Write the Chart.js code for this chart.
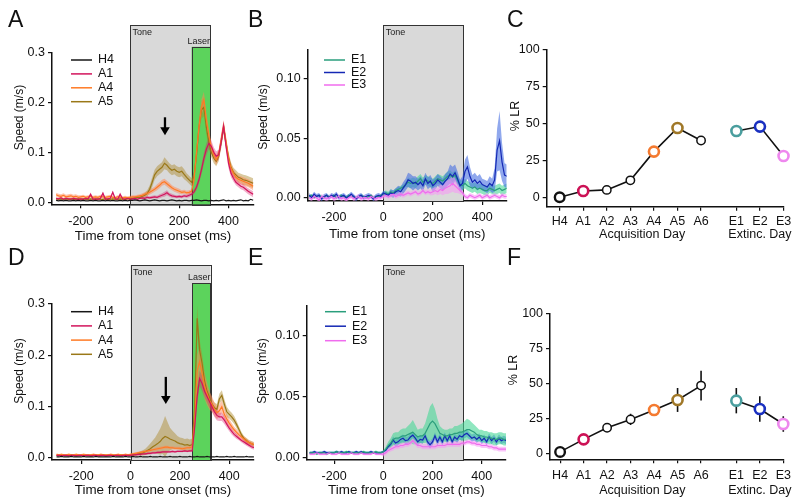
<!DOCTYPE html>
<html>
<head>
<meta charset="utf-8">
<script src="https://cdn.jsdelivr.net/npm/chart.js@4/dist/chart.umd.min.js"></script>
<style>
  html, body { margin: 0; padding: 0; background: #fff; }
  #wrap { position: relative; width: 800px; height: 504px; }
  #wrap canvas { position: absolute; left: 0; top: 0; }
</style>
</head>
<body>
<div id="wrap">
  <canvas id="cA" width="800" height="504"></canvas>
  <canvas id="cB" width="800" height="504"></canvas>
  <canvas id="cC" width="800" height="504"></canvas>
  <canvas id="cD" width="800" height="504"></canvas>
  <canvas id="cE" width="800" height="504"></canvas>
  <canvas id="cF" width="800" height="504"></canvas>
</div>
<script>
// time axis, 10 ms bins from -300 to 500 ms
const T = Array.from({length: 81}, (_, i) => -300 + 10 * i);

// ---- A: acquisition speed traces (m/s)
const h4A = [
  .004,.003,.004,.003,.004,.003,.003,.004,.003,.004,
  .003,.004,.003,.003,.004,.003,.004,.003,.003,.004,
  .003,.004,.003,.004,.003,.003,.004,.003,.004,.003,
  .004,.004,.005,.004,.003,.004,.005,.004,.003,.004,
  .005,.004,.003,.004,.004,.003,.004,.005,.004,.003,
  .004,.003,.004,.004,.003,.004,.004,.005,.004,.003,
  .004,.004,.003,.004,.003,.004,.003,.004,.005,.003,
  .004,.003,.004,.003,.004,.005,.003,.004,.003,.006,
  .004];
const a1A = [
  .008,.007,.009,.006,.008,.007,.006,.008,.007,.006,
  .007,.006,.008,.007,.016,.006,.007,.006,.008,.018,
  .006,.007,.008,.020,.007,.006,.016,.007,.006,.008,
  .006,.007,.008,.006,.008,.009,.008,.010,.009,.010,
  .011,.010,.012,.014,.016,.019,.015,.013,.012,.011,
  .012,.011,.013,.012,.014,.016,.021,.030,.045,.065,
  .088,.106,.118,.112,.100,.092,.095,.120,.152,.112,
  .078,.058,.048,.040,.036,.032,.030,.026,.022,.019,
  .016];
const a1Asem = [
  .002,.002,.002,.002,.002,.002,.002,.002,.002,.002,
  .002,.002,.002,.002,.004,.002,.002,.002,.002,.004,
  .002,.002,.002,.004,.002,.002,.004,.002,.002,.002,
  .002,.002,.002,.002,.002,.003,.003,.003,.003,.003,
  .003,.003,.004,.004,.005,.005,.004,.004,.003,.003,
  .003,.003,.003,.003,.004,.004,.005,.006,.008,.010,
  .012,.012,.012,.012,.010,.010,.010,.012,.012,.012,
  .010,.008,.007,.006,.006,.006,.006,.006,.006,.006,
  .006];
const a4A = [
  .015,.013,.012,.014,.011,.012,.013,.011,.012,.010,
  .011,.012,.010,.011,.012,.010,.011,.010,.012,.011,
  .010,.011,.012,.010,.009,.011,.010,.009,.010,.009,
  .010,.011,.011,.012,.013,.014,.016,.018,.020,.023,
  .026,.030,.034,.039,.041,.037,.033,.029,.026,.024,
  .022,.020,.021,.019,.020,.022,.045,.100,.150,.190,
  .205,.165,.135,.110,.095,.085,.095,.125,.152,.120,
  .088,.068,.058,.050,.046,.044,.042,.040,.038,.035,
  .032];
const a4Asem = [
  .004,.004,.004,.004,.004,.004,.004,.004,.004,.004,
  .003,.003,.003,.003,.003,.003,.003,.003,.003,.003,
  .003,.003,.003,.003,.003,.003,.003,.003,.003,.003,
  .003,.003,.003,.003,.003,.004,.004,.004,.005,.005,
  .005,.006,.006,.006,.006,.006,.006,.005,.005,.005,
  .005,.004,.004,.004,.004,.004,.006,.010,.014,.016,
  .016,.014,.012,.010,.010,.010,.010,.012,.012,.012,
  .010,.009,.008,.008,.008,.008,.008,.008,.008,.008,
  .008];
const a5A = [
  .007,.006,.007,.006,.007,.006,.007,.006,.006,.007,
  .006,.007,.006,.006,.007,.006,.006,.007,.006,.006,
  .007,.006,.006,.007,.006,.006,.007,.006,.006,.007,
  .008,.008,.009,.010,.010,.012,.014,.018,.026,.040,
  .055,.062,.066,.070,.078,.074,.068,.064,.066,.062,
  .060,.062,.056,.050,.045,.040,.052,.095,.150,.185,
  .190,.150,.120,.100,.088,.082,.092,.120,.150,.118,
  .090,.070,.060,.055,.050,.048,.045,.044,.042,.040,
  .038];
const a5Asem = [
  .002,.002,.002,.002,.002,.002,.002,.002,.002,.002,
  .002,.002,.002,.002,.002,.002,.002,.002,.002,.002,
  .002,.002,.002,.002,.002,.002,.002,.002,.002,.002,
  .002,.002,.002,.003,.003,.004,.005,.006,.008,.010,
  .010,.010,.010,.010,.012,.010,.010,.010,.010,.010,
  .010,.010,.010,.008,.008,.008,.010,.014,.016,.018,
  .018,.015,.012,.010,.010,.010,.010,.012,.012,.012,
  .010,.010,.009,.009,.009,.009,.010,.010,.010,.010,
  .010];

// ---- B: extinction speed traces
const e1B = [
  .001,.002,.000,.001,.002,.001,.000,.002,.001,.001,
  .002,.000,.001,.002,.001,.000,.002,.001,.001,.000,
  .001,.002,.001,.000,.001,.002,.000,.001,.001,.002,
  .003,.004,.003,.005,.004,.006,.007,.008,.009,.011,
  .013,.012,.013,.012,.014,.016,.013,.015,.014,.013,
  .012,.014,.016,.015,.014,.016,.018,.019,.017,.019,
  .015,.011,.010,.012,.010,.009,.008,.009,.007,.008,
  .007,.006,.006,.008,.007,.006,.007,.008,.006,.007,
  .008];
const e1Bsem = [
  .001,.001,.001,.001,.001,.001,.001,.001,.001,.001,
  .001,.001,.001,.001,.001,.001,.001,.001,.001,.001,
  .001,.001,.001,.001,.001,.001,.001,.001,.001,.001,
  .002,.002,.002,.002,.002,.002,.002,.002,.002,.002,
  .004,.004,.004,.004,.004,.004,.004,.004,.004,.004,
  .004,.004,.004,.004,.004,.004,.004,.004,.004,.004,
  .004,.004,.004,.004,.004,.004,.004,.004,.004,.004,
  .004,.004,.004,.004,.004,.004,.004,.004,.004,.004,
  .004];
const e2B = [
  .002,.000,.003,.001,.002,-.001,.001,.002,.000,.002,
  .001,.003,.000,.001,.002,.000,.001,.003,.001,-.001,
  .001,.002,.000,.001,.002,.001,-.001,.001,.002,.001,
  .004,.003,.002,.004,.003,.005,.006,.005,.008,.011,
  .015,.014,.012,.013,.011,.013,.010,.016,.012,.014,
  .010,.012,.015,.013,.011,.014,.016,.020,.018,.021,
  .016,.010,.012,.022,.026,.018,.013,.015,.012,.014,
  .011,.010,.009,.012,.010,.015,.040,.048,.030,.019,
  .018];
const e2Bsem = [
  .002,.002,.002,.002,.002,.002,.002,.002,.002,.002,
  .002,.002,.002,.002,.002,.002,.002,.002,.002,.002,
  .002,.002,.002,.002,.002,.002,.002,.002,.002,.002,
  .002,.002,.002,.003,.003,.003,.004,.004,.005,.005,
  .006,.006,.006,.005,.005,.005,.005,.005,.005,.005,
  .005,.005,.005,.005,.005,.006,.006,.008,.008,.007,
  .006,.005,.006,.010,.010,.008,.006,.006,.006,.006,
  .005,.005,.005,.006,.006,.010,.018,.025,.016,.010,
  .010];
const e3B = [
  .000,-.001,.001,.000,-.002,.001,.000,-.001,.000,.001,
  -.001,.000,.001,-.001,.000,-.002,.000,.001,-.001,.000,
  .001,-.001,.000,.000,-.001,.001,.000,-.001,.000,.000,
  .001,.002,.001,.002,.003,.001,.002,.003,.002,.003,
  .004,.003,.004,.005,.003,.004,.006,.004,.005,.004,
  .005,.006,.005,.007,.006,.008,.009,.010,.012,.010,
  .008,.006,.004,.001,.000,.002,.001,.000,.001,.002,
  .000,.001,.002,.000,.001,.002,.001,.000,.002,.001,
  .001];
const e3Bsem = [
  .002,.002,.002,.002,.002,.002,.002,.002,.002,.002,
  .002,.002,.002,.002,.002,.002,.002,.002,.002,.002,
  .002,.002,.002,.002,.002,.002,.002,.002,.002,.002,
  .002,.002,.002,.002,.002,.002,.002,.002,.002,.002,
  .002,.002,.002,.002,.002,.002,.002,.002,.002,.002,
  .003,.003,.003,.004,.004,.005,.006,.006,.007,.006,
  .004,.003,.002,.002,.002,.002,.002,.002,.002,.002,
  .002,.002,.002,.002,.002,.002,.002,.002,.002,.002,
  .002];

// ---- D: acquisition speed traces (second group)
const h4D = [
  .002,.002,.003,.002,.002,.002,.003,.002,.002,.002,
  .002,.003,.002,.002,.002,.002,.003,.002,.002,.002,
  .002,.002,.002,.003,.002,.002,.002,.002,.003,.002,
  .002,.003,.002,.002,.003,.002,.002,.002,.003,.002,
  .002,.002,.003,.002,.002,.002,.003,.002,.002,.002,
  .003,.002,.002,.002,.003,.002,.002,.003,.002,.002,
  .002,.003,.002,.002,.002,.003,.002,.002,.002,.003,
  .002,.002,.003,.002,.002,.002,.002,.003,.002,.002,
  .002];
const a1D = [
  .005,.005,.004,.005,.005,.004,.005,.005,.004,.005,
  .005,.004,.005,.005,.004,.005,.005,.004,.005,.005,
  .004,.005,.005,.004,.005,.005,.004,.005,.005,.005,
  .005,.006,.006,.007,.007,.008,.008,.009,.009,.010,
  .010,.011,.011,.012,.012,.012,.012,.013,.012,.013,
  .013,.013,.014,.013,.014,.014,.060,.120,.155,.145,
  .130,.120,.110,.100,.090,.083,.080,.080,.074,.066,
  .058,.052,.046,.042,.038,.034,.031,.028,.025,.022,
  .020];
const a1Dsem = [
  .001,.001,.001,.001,.001,.001,.001,.001,.001,.001,
  .001,.001,.001,.001,.001,.001,.001,.001,.001,.001,
  .001,.001,.001,.001,.001,.001,.001,.001,.001,.001,
  .001,.001,.002,.002,.002,.002,.002,.002,.002,.002,
  .002,.002,.002,.002,.002,.002,.002,.002,.002,.002,
  .002,.002,.002,.002,.002,.002,.010,.015,.015,.015,
  .012,.012,.012,.010,.010,.010,.008,.008,.008,.007,
  .006,.006,.005,.005,.004,.004,.004,.004,.004,.004,
  .004];
const a4D = [
  .007,.006,.007,.006,.006,.007,.006,.006,.007,.006,
  .006,.007,.006,.006,.006,.007,.006,.006,.007,.006,
  .006,.006,.007,.006,.006,.007,.006,.006,.007,.006,
  .007,.008,.009,.010,.011,.012,.013,.014,.015,.016,
  .017,.018,.019,.020,.021,.021,.020,.020,.019,.019,
  .019,.018,.019,.020,.020,.022,.070,.170,.188,.165,
  .140,.125,.112,.105,.095,.088,.092,.100,.085,.076,
  .068,.061,.055,.050,.045,.041,.037,.033,.030,.028,
  .026];
const a4Dsem = [
  .002,.002,.002,.002,.002,.002,.002,.002,.002,.002,
  .002,.002,.002,.002,.002,.002,.002,.002,.002,.002,
  .002,.002,.002,.002,.002,.002,.002,.002,.002,.002,
  .002,.002,.002,.002,.002,.002,.002,.002,.002,.002,
  .003,.003,.003,.003,.003,.003,.003,.003,.003,.003,
  .003,.003,.003,.003,.003,.004,.015,.030,.030,.028,
  .025,.022,.018,.015,.013,.012,.012,.012,.010,.009,
  .008,.007,.006,.006,.005,.005,.005,.005,.004,.004,
  .004];
const a5D = [
  .005,.005,.006,.005,.005,.005,.006,.005,.005,.005,
  .005,.006,.005,.005,.005,.006,.005,.005,.005,.006,
  .005,.005,.006,.005,.005,.005,.006,.005,.005,.005,
  .006,.006,.007,.008,.009,.010,.012,.015,.018,.022,
  .025,.028,.032,.038,.042,.040,.037,.035,.033,.030,
  .028,.027,.025,.026,.024,.026,.100,.272,.210,.185,
  .150,.130,.118,.105,.098,.095,.115,.122,.105,.090,
  .085,.080,.074,.065,.055,.045,.038,.034,.030,.028,
  .026];
const a5Dsem = [
  .002,.002,.002,.002,.002,.002,.002,.002,.002,.002,
  .002,.002,.002,.002,.002,.002,.002,.002,.002,.002,
  .002,.002,.002,.002,.002,.002,.002,.002,.002,.002,
  .002,.002,.002,.003,.004,.005,.006,.008,.010,.012,
  .015,.020,.025,.030,.040,.030,.022,.018,.015,.013,
  .012,.012,.012,.012,.012,.012,.020,.025,.020,.018,
  .015,.012,.010,.010,.010,.010,.010,.010,.010,.010,
  .008,.008,.008,.007,.006,.005,.005,.005,.005,.005,
  .005];

// ---- E: extinction speed traces (second group)
const e1E = [
  .004,.004,.004,.003,.004,.004,.004,.003,.004,.004,
  .004,.005,.004,.004,.004,.005,.004,.004,.004,.004,
  .004,.004,.005,.004,.004,.004,.004,.005,.004,.004,
  .005,.007,.010,.012,.015,.016,.016,.017,.018,.018,
  .019,.020,.021,.019,.017,.018,.018,.020,.024,.028,
  .030,.028,.024,.020,.019,.018,.018,.019,.019,.020,
  .020,.021,.021,.022,.023,.023,.022,.021,.019,.018,
  .018,.017,.017,.016,.016,.015,.015,.016,.016,.015,
  .015];
const e1Esem = [
  .001,.001,.001,.001,.001,.001,.001,.001,.001,.001,
  .001,.001,.001,.001,.001,.001,.001,.001,.001,.001,
  .001,.001,.001,.001,.001,.001,.001,.001,.001,.001,
  .001,.002,.003,.004,.005,.005,.005,.006,.006,.006,
  .007,.008,.010,.008,.006,.006,.006,.008,.011,.014,
  .015,.012,.008,.006,.005,.005,.005,.005,.005,.006,
  .006,.006,.007,.008,.009,.008,.007,.006,.006,.005,
  .005,.005,.005,.005,.005,.005,.005,.005,.005,.005,
  .005];
const e2E = [
  .004,.004,.005,.004,.004,.004,.005,.004,.004,.004,
  .004,.005,.004,.005,.004,.004,.005,.004,.004,.005,
  .004,.005,.004,.004,.004,.005,.004,.004,.004,.004,
  .005,.006,.009,.011,.0145,.012,.013,.015,.016,.014,
  .0145,.017,.0185,.016,.013,.015,.0145,.018,.013,.0105,
  .013,.018,.013,.017,.013,.018,.014,.018,.013,.017,
  .015,.018,.017,.019,.020,.018,.016,.017,.015,.017,
  .014,.016,.013,.017,.014,.016,.013,.016,.014,.015,
  .014];
const e2Esem = [
  .001,.001,.001,.001,.001,.001,.001,.001,.001,.001,
  .001,.001,.001,.001,.001,.001,.001,.001,.001,.001,
  .001,.001,.001,.001,.001,.001,.001,.001,.001,.001,
  .001,.001,.002,.002,.003,.003,.003,.003,.003,.003,
  .003,.003,.003,.003,.003,.003,.003,.003,.003,.003,
  .003,.003,.003,.003,.003,.003,.003,.003,.003,.003,
  .003,.003,.003,.003,.003,.003,.003,.003,.003,.003,
  .003,.003,.003,.003,.003,.003,.003,.003,.003,.003,
  .003];
const e3E = [
  .003,.003,.003,.004,.003,.003,.003,.003,.004,.003,
  .003,.003,.004,.003,.003,.003,.003,.004,.003,.003,
  .003,.004,.003,.003,.003,.003,.004,.003,.003,.003,
  .003,.004,.006,.007,.008,.009,.009,.010,.010,.011,
  .011,.012,.014,.012,.010,.010,.009,.009,.009,.009,
  .009,.009,.010,.010,.010,.010,.011,.011,.011,.011,
  .011,.011,.012,.012,.013,.013,.012,.012,.011,.011,
  .010,.010,.010,.009,.009,.008,.008,.007,.007,.007,
  .007];
const e3Esem = [
  .001,.001,.001,.001,.001,.001,.001,.001,.001,.001,
  .001,.001,.001,.001,.001,.001,.001,.001,.001,.001,
  .001,.001,.001,.001,.001,.001,.001,.001,.001,.001,
  .002,.002,.002,.002,.002,.002,.002,.002,.002,.002,
  .002,.002,.002,.002,.002,.002,.002,.002,.002,.002,
  .002,.002,.002,.002,.002,.002,.002,.002,.002,.002,
  .002,.002,.002,.002,.002,.002,.002,.002,.002,.002,
  .002,.002,.002,.002,.002,.002,.002,.002,.002,.002,
  .002];

// ---- C / F: % LR per day
const days = ['H4','A1','A2','A3','A4','A5','A6','E1','E2','E3'];
const dayPos = [0, 1, 2, 3, 4, 5, 6, 7.5, 8.5, 9.5];
const lrC = [0, 4.3, 5, 11.5, 31, 47, 38.5, 45, 48, 28];
const lrF = [1.5, 10.4, 18.7, 24.6, 31.3, 38.4, 48.6, 37.9, 32, 21.3];
const lrFsem = [1, 2, 3, 4, 3, 8.5, 10.5, 9, 9, 5.5];
const groupNames = ['Acquisition Day', 'Extinc. Day'];
const groupAt = [3.5, 8.5];

// ticks
const timeTicks = [-200, 0, 200, 400];
const speedTicksA = [0, 0.1, 0.2, 0.3];
const speedTicksB = [0, 0.05, 0.1];
const lrTicks = [0, 25, 50, 75, 100];

// styles
const COL = {H4: '#161616', A1: '#d3145c', A4: '#ff7a24', A5: '#9a7818', E1: '#2a9e7c', E2: '#1428b4', E3: '#f06cee'};
const BAND = {A1: 'rgba(215,30,105,0.35)', A4: 'rgba(255,135,85,0.5)', A5: 'rgba(170,135,40,0.45)',
              E1: 'rgba(70,215,150,0.6)', E2: 'rgba(70,110,225,0.6)', E3: 'rgba(248,150,245,0.55)'};
const DAYCOL = ['#111', '#cc1155', '#111', '#111', '#f47a30', '#a07828', '#111', '#4a9e9e', '#1a30c0', '#ee88ee'];
const DAYRAD = [4.8, 5, 4.2, 4.2, 5, 5, 4.2, 5, 5, 5];
const DAYBW = [2.4, 2.6, 1.5, 1.5, 2.6, 2.6, 1.5, 2.6, 2.6, 2.6];
const FONT = '"Liberation Sans", Arial, Helvetica, sans-serif';

Chart.defaults.font.family = FONT;
Chart.defaults.font.size = 12.5;
Chart.defaults.color = '#111';

function traceSets(series) {
  const sets = [];
  series.forEach((s, k) => {
    if (s.sem) {
      sets.push({data: T.map((t, i) => ({x: t, y: s.mean[i] + s.sem[i]})), borderColor: 'rgba(0,0,0,0)',
        backgroundColor: BAND[s.name], borderWidth: 0, pointRadius: 0, fill: '+1', order: 200 - k});
      sets.push({data: T.map((t, i) => ({x: t, y: s.mean[i] - s.sem[i]})), borderColor: 'rgba(0,0,0,0)',
        borderWidth: 0, pointRadius: 0, fill: false, order: 200 - k});
    }
    sets.push({data: T.map((t, i) => ({x: t, y: s.mean[i]})), borderColor: COL[s.name],
      borderWidth: 1.2, pointRadius: 0, fill: false, order: 100 - k});
  });
  return sets;
}

function daySets(vals) {
  const mk = idx => ({
    data: idx.map(i => ({x: dayPos[i], y: vals[i]})),
    borderColor: '#111', borderWidth: 1.6, fill: false, clip: false,
    pointRadius: idx.map(i => DAYRAD[i]), pointBorderWidth: idx.map(i => DAYBW[i]),
    pointBorderColor: idx.map(i => DAYCOL[i]), pointBackgroundColor: '#fff'
  });
  return [mk([0, 1, 2, 3, 4, 5, 6]), mk([7, 8, 9])];
}

function panelPlugin(P) {
  return {
    id: 'panel' + P.letter,
    beforeDatasetsDraw(chart) {
      const ctx = chart.ctx, ca = chart.chartArea, xs = chart.scales.x, ys = chart.scales.y;
      ctx.save();
      (P.boxes || []).forEach(b => {
        const l = xs.getPixelForValue(b.from), r = xs.getPixelForValue(b.to), top = ys.getPixelForValue(b.top);
        ctx.fillStyle = b.fill;
        ctx.fillRect(l, top, r - l, ca.bottom - top);
        ctx.strokeStyle = '#333';
        ctx.lineWidth = 1;
        ctx.strokeRect(Math.round(l) + 0.5, Math.round(top) + 0.5, Math.round(r - l), Math.round(ca.bottom - top));
        ctx.fillStyle = '#222';
        ctx.font = '9px ' + FONT;
        if (b.inside) {
          ctx.textAlign = 'left'; ctx.textBaseline = 'top';
          ctx.fillText(b.label, l + 2.5, top + 3);
        } else {
          ctx.textAlign = 'right'; ctx.textBaseline = 'bottom';
          ctx.fillText(b.label, r, top - 1);
        }
      });
      if (P.err) {
        ctx.strokeStyle = '#111';
        ctx.lineWidth = 1.6;
        P.err.sem.forEach((e, i) => {
          const x = xs.getPixelForValue(dayPos[i]);
          ctx.beginPath();
          ctx.moveTo(x, ys.getPixelForValue(P.err.vals[i] - e));
          ctx.lineTo(x, ys.getPixelForValue(P.err.vals[i] + e));
          ctx.stroke();
        });
      }
      ctx.restore();
    },
    afterDatasetsDraw(chart) {
      if (!P.arrow) return;
      const ctx = chart.ctx, xs = chart.scales.x, ys = chart.scales.y;
      const x = xs.getPixelForValue(P.arrow.t), y0 = ys.getPixelForValue(P.arrow.from), y1 = ys.getPixelForValue(P.arrow.to);
      ctx.save();
      ctx.strokeStyle = '#000'; ctx.fillStyle = '#000'; ctx.lineWidth = 2.3;
      ctx.beginPath(); ctx.moveTo(x, y0); ctx.lineTo(x, y1 - 6); ctx.stroke();
      ctx.beginPath(); ctx.moveTo(x - 4.8, y1 - 8); ctx.lineTo(x + 4.8, y1 - 8); ctx.lineTo(x, y1); ctx.closePath(); ctx.fill();
      ctx.restore();
    },
    afterDraw(chart) {
      const ctx = chart.ctx, xs = chart.scales.x;
      ctx.save();
      ctx.fillStyle = '#111';
      if (P.legend) {
        const L = P.legend;
        ctx.font = '12.5px ' + FONT;
        ctx.textAlign = 'left'; ctx.textBaseline = 'middle';
        L.names.forEach((n, i) => {
          const y = L.y + i * L.dy;
          ctx.strokeStyle = COL[n]; ctx.lineWidth = 1.5;
          ctx.beginPath(); ctx.moveTo(L.x, y); ctx.lineTo(L.x + 21, y); ctx.stroke();
          ctx.fillText(n, L.x + 27, y);
        });
      }
      if (P.groups) {
        ctx.font = '12.5px ' + FONT;
        ctx.textAlign = 'center'; ctx.textBaseline = 'middle';
        groupNames.forEach((g, i) => ctx.fillText(g, xs.getPixelForValue(groupAt[i]), P.groups.y));
      }
      const Y = P.yTitle;
      ctx.save();
      ctx.translate(Y.x, Y.y); ctx.rotate(-Math.PI / 2);
      ctx.font = Y.size + 'px ' + FONT;
      ctx.textAlign = 'center'; ctx.textBaseline = 'middle';
      ctx.fillText(Y.text, 0, 0);
      ctx.restore();
      ctx.font = '23px ' + FONT;
      ctx.textAlign = 'left'; ctx.textBaseline = 'alphabetic';
      ctx.fillText(P.letter, P.letterPos[0], P.letterPos[1]);
      ctx.restore();
    }
  };
}

function makeChart(id, P, datasets) {
  const a = P.area;
  const xH = P.xTitle ? (P.xTitle.y - a.b + 8) : 30;
  const fix = (w, h) => s => {
    if (w != null) s.width = w;
    if (h != null) s.height = h;
    s.paddingLeft = s.paddingRight = s.paddingTop = s.paddingBottom = 0;
  };
  const grid = {display: true, drawOnChartArea: false, drawTicks: true, tickLength: 4, color: '#111', lineWidth: 1.2};
  const border = {display: true, color: '#111', width: 1.5};
  return new Chart(document.getElementById(id), {
    type: 'line',
    data: {datasets},
    options: {
      responsive: false, animation: false, devicePixelRatio: 1,
      elements: {line: {tension: 0}},
      layout: {autoPadding: false, padding: {left: 0, top: a.t, right: 800 - a.r, bottom: 504 - a.b - xH}},
      plugins: {legend: {display: false}, tooltip: {enabled: false}},
      scales: {
        x: {
          type: 'linear', min: P.x.min, max: P.x.max,
          afterFit: fix(null, xH),
          afterBuildTicks: s => { s.ticks = P.x.ticks.map(v => ({value: v})); },
          ticks: {padding: P.x.pad, autoSkip: false, maxRotation: 0, callback: P.x.fmt},
          grid, border,
          title: P.xTitle ? {display: true, text: P.xTitle.text, font: {size: 13.4}, padding: 0} : {display: false}
        },
        y: {
          type: 'linear', min: P.y.min, max: P.y.max,
          afterFit: fix(a.l, null),
          afterBuildTicks: s => { s.ticks = P.y.ticks.map(v => ({value: v})); },
          ticks: {padding: 3, autoSkip: false, callback: P.y.fmt},
          grid, border
        }
      }
    },
    plugins: [panelPlugin(P)]
  });
}

const fmtTime = v => String(v);
const fmtDay = (v, i) => days[i];
const fmtLR = v => String(v);

// A
makeChart('cA', {
  letter: 'A', letterPos: [8, 27],
  area: {l: 52, r: 254, t: 52.3, b: 204.3},
  x: {min: -316.7, max: 503.4, ticks: timeTicks, pad: 5.5, fmt: fmtTime},
  y: {min: -0.004, max: 0.3, ticks: speedTicksA, fmt: v => v.toFixed(1)},
  xTitle: {text: 'Time from tone onset (ms)', y: 236},
  yTitle: {text: 'Speed (m/s)', x: 19.5, y: 117.5, size: 12},
  boxes: [{from: 0, to: 325, top: 0.3546, fill: '#d9d9d9', label: 'Tone', inside: true},
          {from: 250, to: 325, top: 0.311, fill: '#5cd35c', label: 'Laser'}],
  arrow: {t: 142, from: 0.17, to: 0.134},
  legend: {x: 71, y: 60, dy: 13.9, names: ['H4', 'A1', 'A4', 'A5']}
}, traceSets([
  {name: 'A5', mean: a5A, sem: a5Asem}, {name: 'A4', mean: a4A, sem: a4Asem},
  {name: 'A1', mean: a1A, sem: a1Asem}, {name: 'H4', mean: h4A}
]));

// B
makeChart('cB', {
  letter: 'B', letterPos: [248, 27],
  area: {l: 307.7, r: 506.7, t: 50, b: 201},
  x: {min: -305.9, max: 498.8, ticks: timeTicks, pad: 5.5, fmt: fmtTime},
  y: {min: -0.0028, max: 0.1244, ticks: speedTicksB, fmt: v => v.toFixed(2)},
  xTitle: {text: 'Time from tone onset (ms)', y: 234},
  yTitle: {text: 'Speed (m/s)', x: 264, y: 117, size: 12},
  boxes: [{from: 0, to: 325, top: 0.1455, fill: '#d9d9d9', label: 'Tone', inside: true}],
  legend: {x: 324, y: 60, dy: 12.5, names: ['E1', 'E2', 'E3']}
}, traceSets([
  {name: 'E1', mean: e1B, sem: e1Bsem}, {name: 'E2', mean: e2B, sem: e2Bsem}, {name: 'E3', mean: e3B, sem: e3Bsem}
]));

// C
makeChart('cC', {
  letter: 'C', letterPos: [507, 27],
  area: {l: 546.7, r: 784, t: 50, b: 206.7},
  x: {min: -0.55, max: 9.52, ticks: dayPos, pad: 3.5, fmt: fmtDay},
  y: {min: -6.4, max: 100, ticks: lrTicks, fmt: fmtLR},
  yTitle: {text: '% LR', x: 515.5, y: 116, size: 12.5},
  groups: {y: 235}
}, daySets(lrC));

// D
makeChart('cD', {
  letter: 'D', letterPos: [8, 265],
  area: {l: 52, r: 254, t: 304, b: 460},
  x: {min: -318.3, max: 500.4, ticks: timeTicks, pad: 5, fmt: fmtTime},
  y: {min: -0.0039, max: 0.3, ticks: speedTicksA, fmt: v => v.toFixed(1)},
  xTitle: {text: 'Time from tone onset (ms)', y: 490},
  yTitle: {text: 'Speed (m/s)', x: 19.5, y: 371, size: 12},
  boxes: [{from: 0, to: 324, top: 0.376, fill: '#d9d9d9', label: 'Tone', inside: true},
          {from: 251, to: 324, top: 0.3405, fill: '#5cd35c', label: 'Laser'}],
  arrow: {t: 143, from: 0.158, to: 0.105},
  legend: {x: 71, y: 311.7, dy: 14.2, names: ['H4', 'A1', 'A4', 'A5']}
}, traceSets([
  {name: 'A5', mean: a5D, sem: a5Dsem}, {name: 'A4', mean: a4D, sem: a4Dsem},
  {name: 'A1', mean: a1D, sem: a1Dsem}, {name: 'H4', mean: h4D}
]));

// E
makeChart('cE', {
  letter: 'E', letterPos: [248, 265],
  area: {l: 306.7, r: 506, t: 305.7, b: 460},
  x: {min: -311.4, max: 498.8, ticks: timeTicks, pad: 5, fmt: fmtTime},
  y: {min: -0.0019, max: 0.1249, ticks: speedTicksB, fmt: v => v.toFixed(2)},
  xTitle: {text: 'Time from tone onset (ms)', y: 490},
  yTitle: {text: 'Speed (m/s)', x: 263, y: 371, size: 12},
  boxes: [{from: 0, to: 325, top: 0.1583, fill: '#d9d9d9', label: 'Tone', inside: true}],
  legend: {x: 325, y: 311.7, dy: 14.5, names: ['E1', 'E2', 'E3']}
}, traceSets([
  {name: 'E2', mean: e2E, sem: e2Esem}, {name: 'E1', mean: e1E, sem: e1Esem}, {name: 'E3', mean: e3E, sem: e3Esem}
]));

// F
makeChart('cF', {
  letter: 'F', letterPos: [507, 265],
  area: {l: 550, r: 784, t: 313.3, b: 459.3},
  x: {min: -0.43, max: 9.53, ticks: dayPos, pad: 5, fmt: fmtDay},
  y: {min: -3.77, max: 100, ticks: lrTicks, fmt: fmtLR},
  yTitle: {text: '% LR', x: 513.5, y: 370, size: 12.5},
  groups: {y: 490.7},
  err: {vals: lrF, sem: lrFsem}
}, daySets(lrF));
</script>
</body>
</html>
